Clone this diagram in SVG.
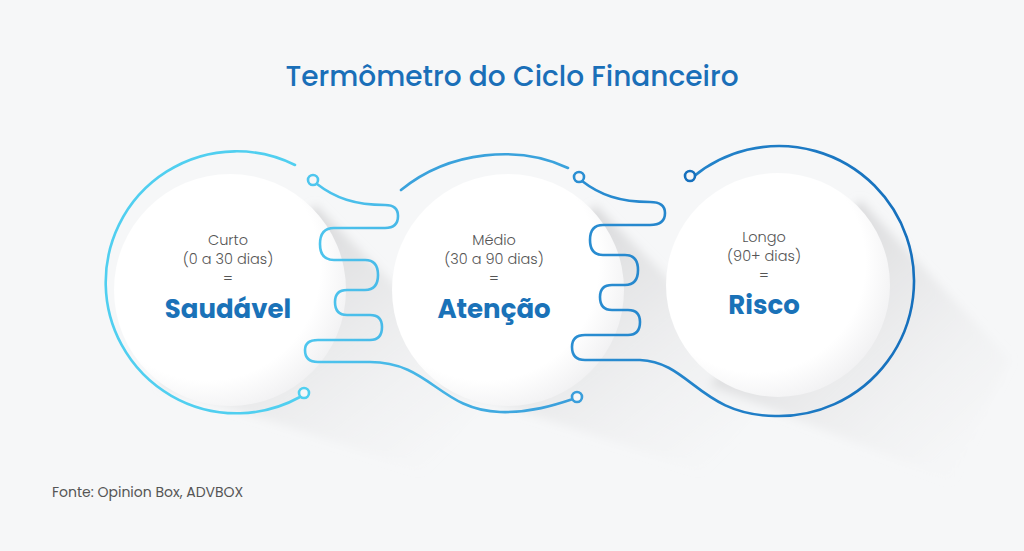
<svg xmlns="http://www.w3.org/2000/svg" width="1024" height="551" viewBox="0 0 1024 551">
<defs>
<linearGradient id="sh" x1="0" y1="0" x2="1" y2="1"><stop offset="0" stop-color="#bdbdbf" stop-opacity="0.85"/><stop offset="1" stop-color="#f4f4f5" stop-opacity="0"/></linearGradient>
<radialGradient id="cf" cx="0.4" cy="0.4" r="0.7"><stop offset="0.7" stop-color="#ffffff"/><stop offset="1" stop-color="#ececee"/></radialGradient>
<filter id="bl"><feGaussianBlur stdDeviation="5"/></filter>
<linearGradient id="g1" x1="0" y1="0" x2="1" y2="0"><stop offset="0" stop-color="#4ec6ee"/><stop offset="1" stop-color="#3a9edb"/></linearGradient>
<linearGradient id="g2" x1="0" y1="0" x2="1" y2="0"><stop offset="0" stop-color="#2a8ed2"/><stop offset="1" stop-color="#1670bd"/></linearGradient>
</defs>
<style>
.l{fill:none;stroke-width:2.6;stroke-linecap:round;stroke-linejoin:round}
.d{fill:#f6f7f8;stroke-width:2.6}
.s{font-family:Poppins,"Noto Sans",Roboto,sans-serif;font-size:14.5px;font-weight:300;fill:#555;text-anchor:middle}
.b{font-family:Poppins,"Noto Sans",Roboto,sans-serif;font-size:26px;font-weight:bold;fill:#1a72b8;text-anchor:middle}
</style>
<rect width="1024" height="551" fill="#f6f7f8"/>
<text x="512" y="86" font-family="Poppins,'Noto Sans',Roboto,sans-serif" font-size="28" font-weight="500" fill="#1a6fb8" text-anchor="middle">Termômetro do Ciclo Financeiro</text>
<g id="shadows" filter="url(#bl)">
<polygon points="315,205 500,390 420,470 160,385" fill="url(#sh)"/>
<polygon points="595,205 780,390 700,470 440,385" fill="url(#sh)"/>
<polygon points="860,200 1010,360 950,480 710,385" fill="url(#sh)"/>
</g>
<g id="n1"><circle cx="230" cy="290" r="116" fill="url(#cf)"/>
<text class="s" x="228" y="245">Curto</text><text class="s" x="228" y="264">(0 a 30 dias)</text><text class="s" x="228" y="283">=</text><text class="b" x="228" y="318">Saudável</text></g>
<g id="n2"><circle cx="508" cy="290" r="116" fill="url(#cf)"/>
<text class="s" x="494" y="245">Médio</text><text class="s" x="494" y="264">(30 a 90 dias)</text><text class="s" x="494" y="283">=</text><text class="b" x="494" y="318">Atenção</text></g>
<g id="n3"><circle cx="778" cy="285" r="112" fill="url(#cf)"/>
<text class="s" x="764" y="242">Longo</text><text class="s" x="764" y="261">(90+ dias)</text><text class="s" x="764" y="280">=</text><text class="b" x="764" y="314">Risco</text></g>
<g id="connectors">
<path class="l" stroke="#50cff0" d="M295,165 A131,131 0 1 0 300,397"/>
<path class="l" stroke="url(#g1)" d="M317,184 C335,198 355,205 385,205 Q398,205 398,216 Q398,228 385,228 L334,228 Q320,228 320,244 Q320,260 334,260 L365,260 Q378,260 378,275 Q378,290 365,290 L347,290 Q335,290 335,302 Q335,315 347,315 L370,315 Q382,315 382,327 Q382,340 370,340 L318,340 Q305,340 305,350 Q305,362 318,362 L370,362 C430,362 440,410 500,412 C530,413 555,405 573,399"/>
<path class="l" stroke="#3aa2dc" d="M401,190 C450,150 520,145 568,168"/>
<path class="l" stroke="url(#g2)" d="M582,181 C600,195 620,202 650,202 Q665,202 665,213 Q665,225 650,225 L603,225 Q590,225 590,240 Q590,255 603,255 L625,255 Q638,255 638,270 Q638,285 625,285 L612,285 Q600,285 600,297 Q600,310 612,310 L628,310 Q640,310 640,322 Q640,335 628,335 L585,335 Q572,335 572,347 Q572,360 585,360 L640,360 C690,362 700,415 775,416 A135,135 0 1 0 693,177"/>
<circle class="d" stroke="#4ec6ee" cx="313" cy="180" r="5"/>
<circle class="d" stroke="#50cff0" cx="304" cy="393" r="5"/>
<circle class="d" stroke="#3a9edb" cx="577" cy="397" r="5"/>
<circle class="d" stroke="#2a8ed2" cx="579" cy="177" r="5"/>
<circle class="d" stroke="#1670bd" cx="690" cy="176" r="5"/>
</g>
<text x="52" y="497" font-family="Poppins,'Noto Sans',Roboto,sans-serif" font-size="14" fill="#555">Fonte: Opinion Box, ADVBOX</text>
</svg>
